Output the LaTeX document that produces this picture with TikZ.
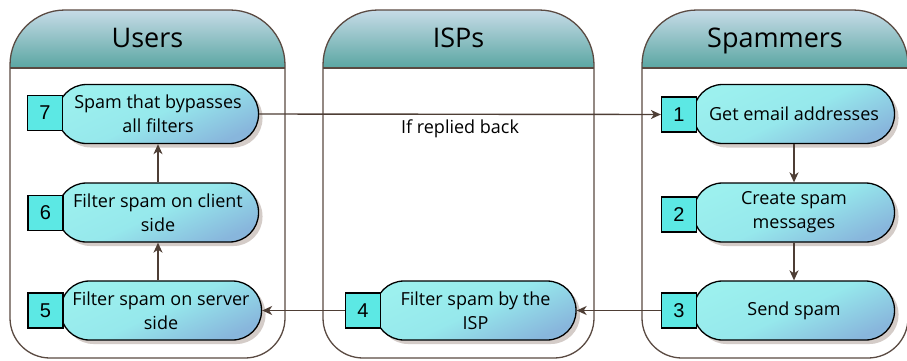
\documentclass[tikz,border=0pt]{standalone}
\usepackage{fontspec}
\setmainfont{Open Sans}
\newfontfamily\digitfont{Liberation Sans}
\usetikzlibrary{shadows,arrows.meta}

\definecolor{lanebrown}{HTML}{5A4A42}
\definecolor{arrowbrown}{HTML}{4E3E35}
\definecolor{headtop}{HTML}{C8DCE8}
\definecolor{headbot}{HTML}{5AA6A2}
\definecolor{proclight}{HTML}{9CF0EE}
\definecolor{procmid}{HTML}{96E8EC}
\definecolor{procdark}{HTML}{88B6DC}
\definecolor{numfill}{HTML}{5CE8E4}
\definecolor{shadowgray}{HTML}{D4CCC8}

\tikzset{
  process/.style={rectangle, rounded corners=29pt, draw=black, line width=1.3pt,
    minimum width=201pt, minimum height=59pt, inner sep=1pt,
    top color=proclight, bottom color=procdark, middle color=procmid, shading angle=25,
    align=center, font=\fontsize{18}{24}\selectfont,
    drop shadow={shadow xshift=4pt, shadow yshift=-4pt, fill=shadowgray, opacity=1}},
  numbox/.style={rectangle, draw=black, line width=1.2pt, fill=numfill,
    minimum width=35pt, minimum height=35pt, inner sep=0pt,
    font=\digitfont\fontsize{20}{20}\selectfont},
  flow/.style={draw=arrowbrown, line width=1.4pt,
    -{Stealth[length=10pt, width=9pt, inset=3pt]}},
  lanetitle/.style={font=\fontsize{27}{27}\selectfont, anchor=base},
  edgelabel/.style={font=\fontsize{18}{18}\selectfont, anchor=base, inner sep=1pt},
}

% outline of a swimlane between x = #1 and x = #2
\newcommand\laneoutline[2]{%
  (#1,292) -- (#1,295) arc[start angle=180, end angle=90, radius=55]
  -- (#2-55,350) arc[start angle=90, end angle=0, radius=55]
  -- (#2,42) arc[start angle=0, end angle=-90, radius=40]
  -- (#1+40,2) arc[start angle=270, end angle=180, radius=40] -- cycle}

% swimlane: left x, right x, node name, title
\newcommand\swimlane[4]{%
  \fill[white] \laneoutline{#1}{#2};
  \begin{scope}
    \clip \laneoutline{#1}{#2};
    \shade[top color=headtop, bottom color=headbot] (#1,292) rectangle (#2,351);
  \end{scope}
  \draw[lanebrown, line width=1.3pt] \laneoutline{#1}{#2};
  \draw[lanebrown, line width=2pt] (#1,292) -- (#2,292);
  \node[lanetitle] (#3) at ({(#1+#2)/2},313) {#4};
}

\begin{document}
\begin{tikzpicture}[x=1pt, y=1pt]
  \useasboundingbox (0,0) rectangle (907,360);

  % swimlanes
  \swimlane{10}{285}{users}{Users}
  \swimlane{323}{594}{isps}{ISPs}
  \swimlane{642}{908}{spammers}{Spammers}

  % process steps
  \node[process] (p7) at (158,246)  {Spam that bypasses\\all filters};
  \node[process] (p6) at (158,147.5) {Filter spam on client\\side};
  \node[process] (p5) at (161,49.5) {Filter spam on server\\side};
  \node[process] (p4) at (475.5,49.5) {Filter spam by the\\ISP};
  \node[process] (p1) at (794,246)  {Get email addresses};
  \node[process] (p2) at (794,147.5) {Create spam\\messages};
  \node[process] (p3) at (794,49.5) {Send spam};

  % step numbers
  \node[numbox] (n7) at (45,247)    {7};
  \node[numbox] (n6) at (45.5,147)  {6};
  \node[numbox] (n5) at (45.5,49.5) {5};
  \node[numbox] (n4) at (363,49.5)  {4};
  \node[numbox] (n1) at (679,245.5) {1};
  \node[numbox] (n2) at (679,145.5) {2};
  \node[numbox] (n3) at (679,49.5)  {3};

  % flow between steps
  \draw[flow] (p1.south) -- (p2.north);
  \draw[flow] (p2.south) -- (p3.north);
  \draw[flow] (n3.west) -- (p4.east);
  \draw[flow] (n4.west) -- (p5.east);
  \draw[flow] (p5.north -| p6.south) -- (p6.south);
  \draw[flow] (p6.north) -- (p7.south);
  \draw[flow] (p7.east) -- node[edgelabel, midway, yshift=-19pt] (reply) {If replied back} (n1.west);
\end{tikzpicture}
\end{document}
